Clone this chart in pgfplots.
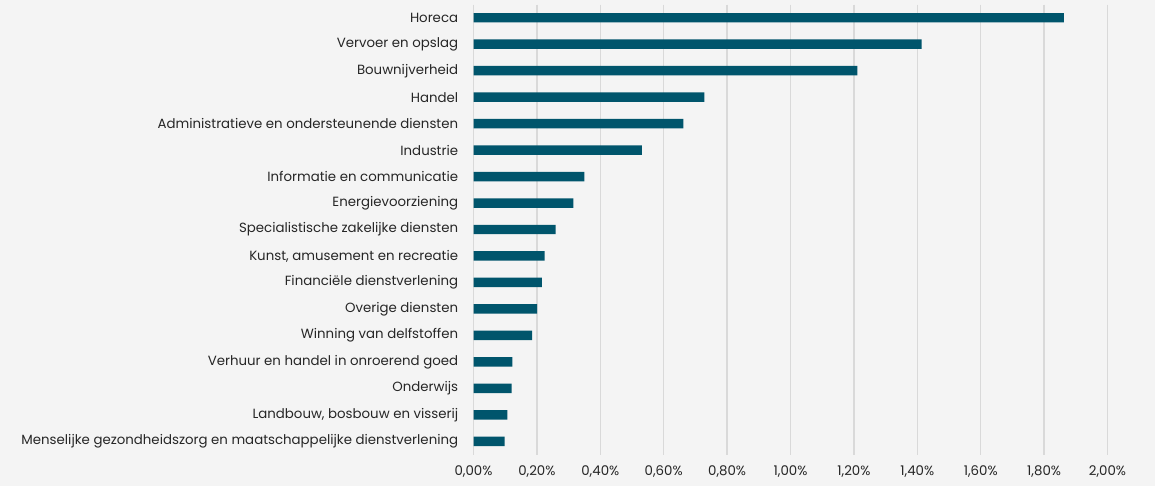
\documentclass[border=0pt]{standalone}
\usepackage{pgfplots}
\pgfplotsset{compat=1.18}
\usepackage{fontspec}
\setmainfont{Poppins}
\definecolor{barc}{RGB}{0,85,108}
\definecolor{bgc}{RGB}{244,244,244}
\definecolor{gridc}{RGB}{217,217,217}
\begin{document}
\begin{tikzpicture}[x=0.75pt,y=0.75pt]
\fill[bgc] (0,0) rectangle (1155,486);
\useasboundingbox (0,0) rectangle (1155,486);
\begin{axis}[
  at={(473.5*0.75pt,31.5*0.75pt)}, anchor=south west,
  scale only axis,
  width=475.5pt, height=337.5pt,
  xbar, bar width=7.1pt,
  xmin=0, xmax=2,
  ymin=-0.5, ymax=16.5,
  y dir=reverse,
  xtick={0,0.2,0.4,0.6,0.8,1,1.2,1.4,1.6,1.8,2},
  xticklabels={{0,00\%},{0,20\%},{0,40\%},{0,60\%},{0,80\%},{1,00\%},{1,20\%},{1,40\%},{1,60\%},{1,80\%},{2,00\%}},
  ytick={0,...,16},
  yticklabels={Horeca,Vervoer en opslag,Bouwnijverheid,Handel,Administratieve en ondersteunende diensten,Industrie,Informatie en communicatie,Energievoorziening,Specialistische zakelijke diensten,{Kunst, amusement en recreatie},Financiële dienstverlening,Overige diensten,Winning van delfstoffen,Verhuur en handel in onroerend goed,Onderwijs,{Landbouw, bosbouw en visserij},Menselijke gezondheidszorg en maatschappelijke dienstverlening},
  xmajorgrids, ymajorgrids=false,
  major grid style={draw=gridc, line width=1pt},
  axis line style={draw=none},
  major tick length=0pt,
  tick style={draw=none},
  ticklabel style={font=\fontsize{10}{12}\selectfont, text=black!85},
  xticklabel style={yshift=-5pt},
  yticklabel style={xshift=-8pt},
]
\addplot[fill=barc, draw=none] coordinates {
(1.862,0) (1.414,1) (1.211,2) (0.728,3) (0.662,4) (0.531,5) (0.350,6) (0.315,7) (0.259,8) (0.224,9) (0.216,10) (0.201,11) (0.185,12) (0.123,13) (0.120,14) (0.107,15) (0.098,16)
};
\end{axis}
\end{tikzpicture}
\end{document}
